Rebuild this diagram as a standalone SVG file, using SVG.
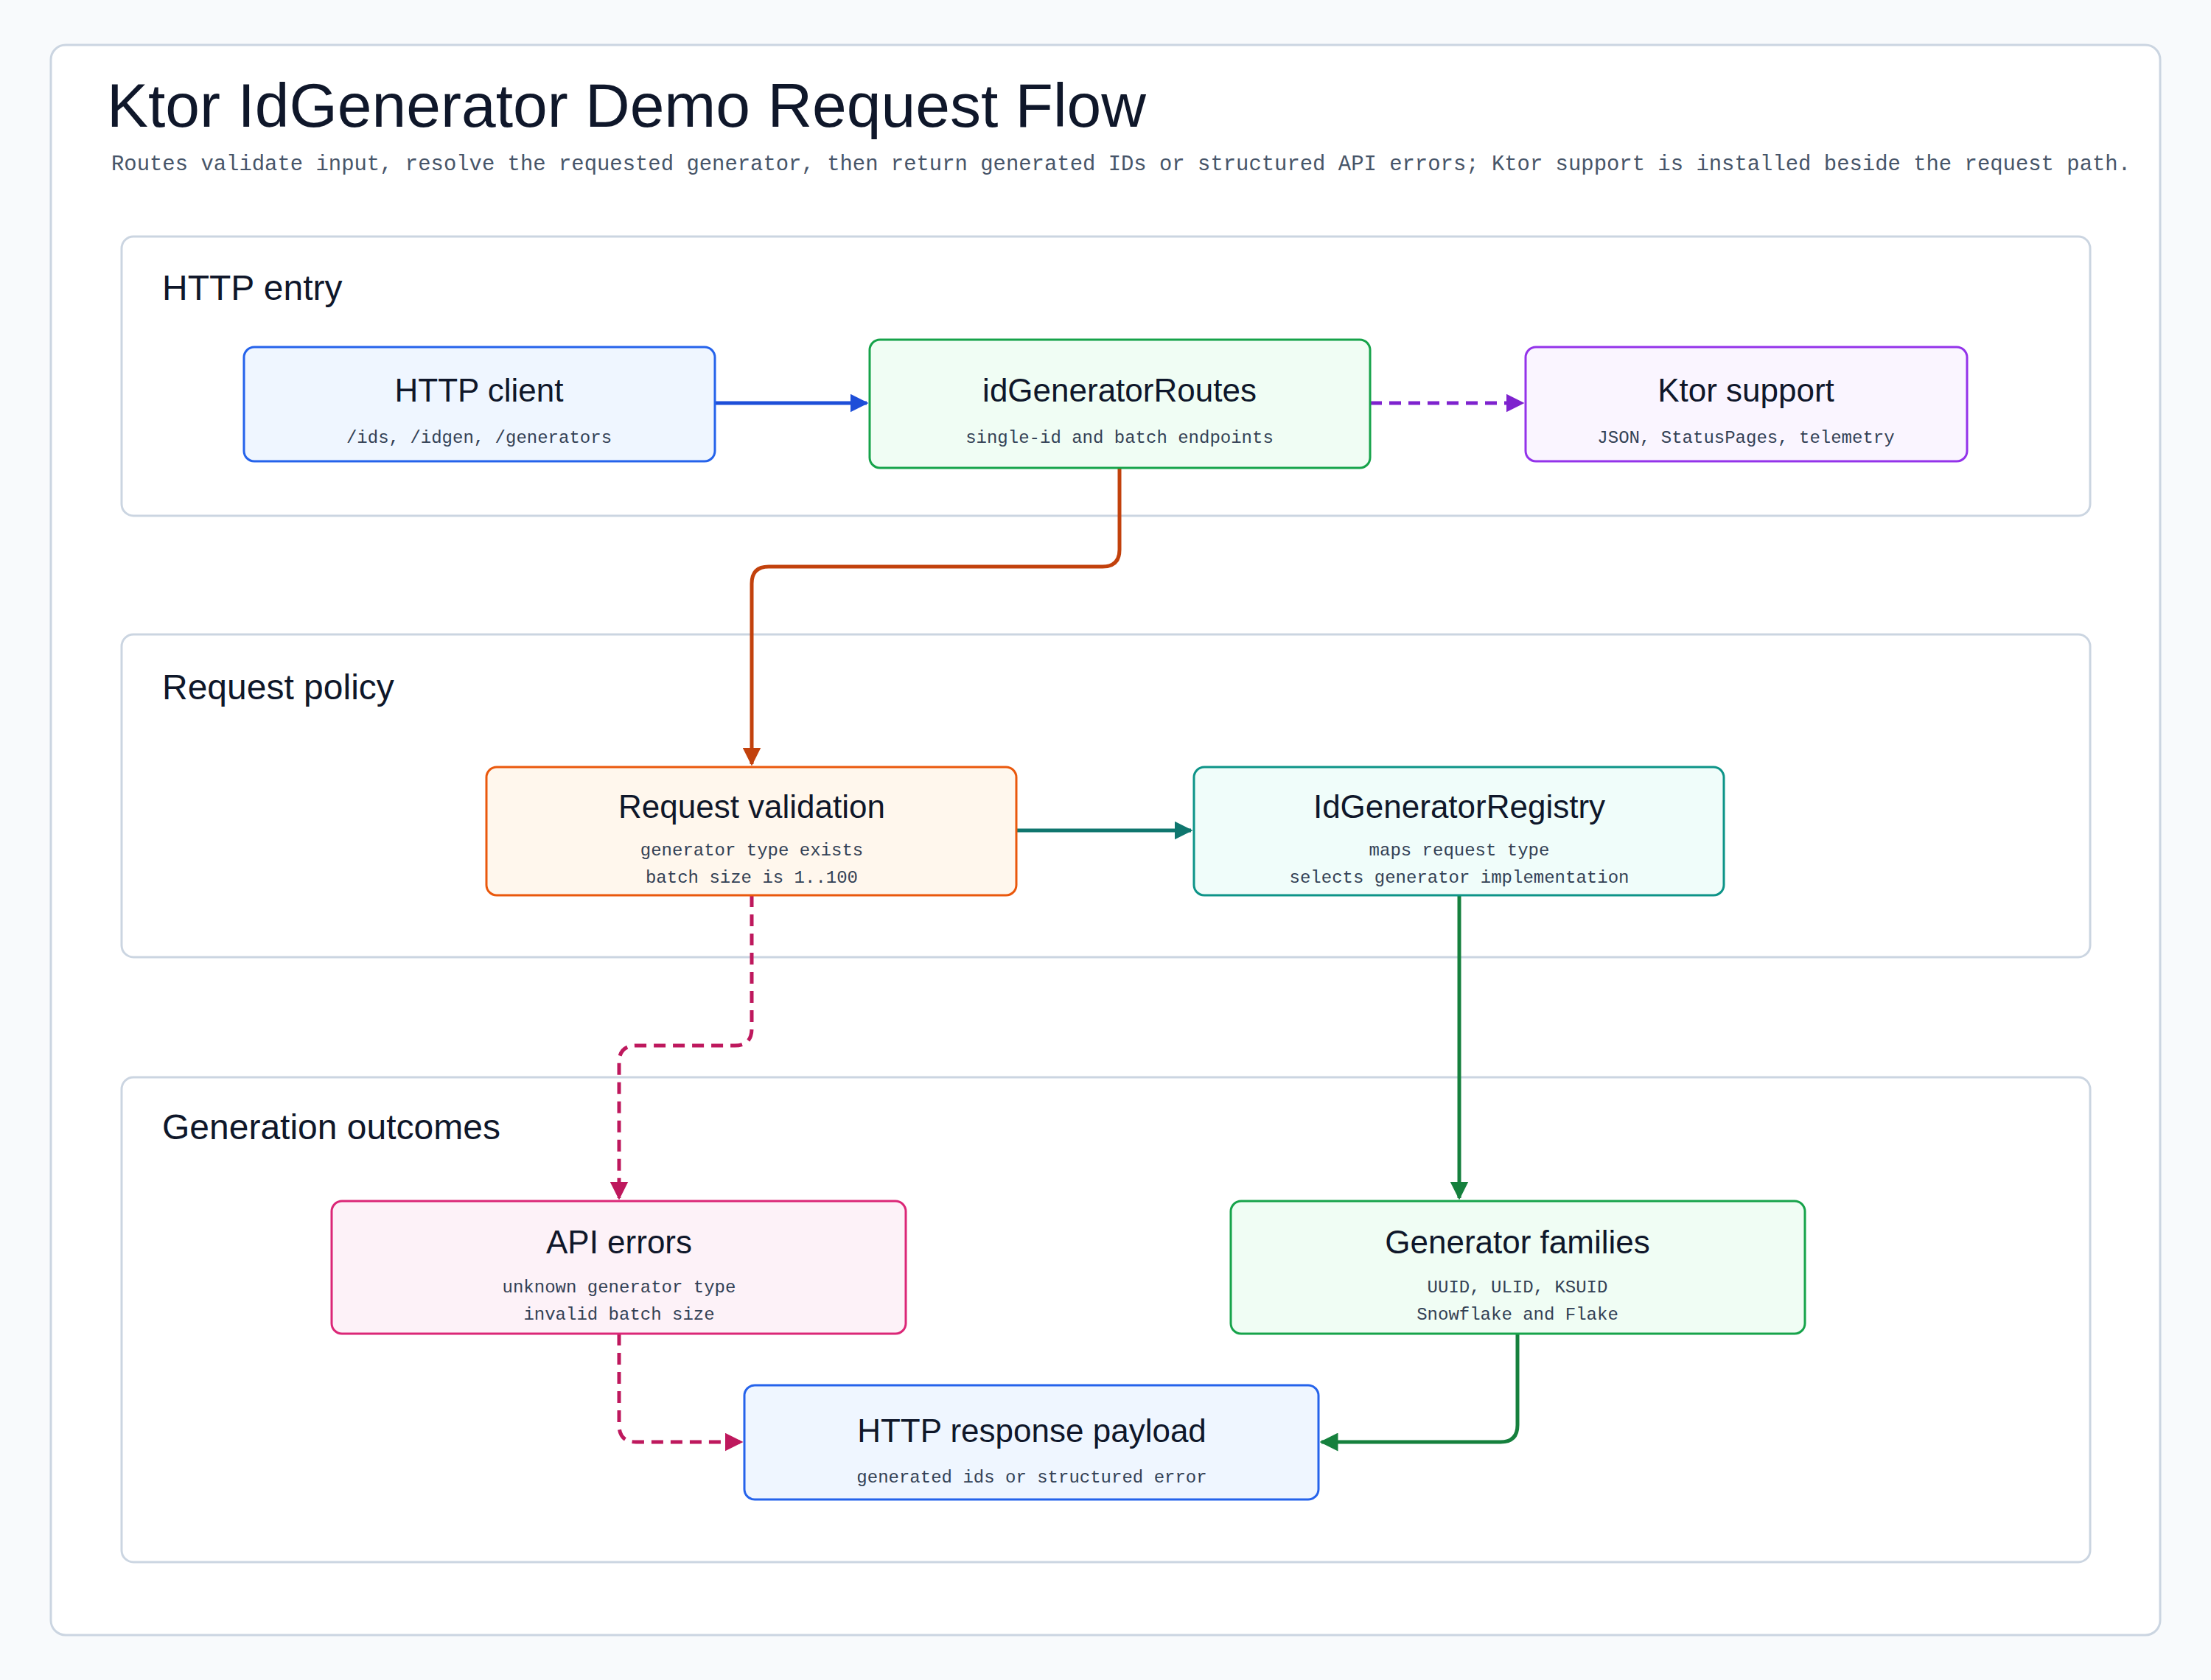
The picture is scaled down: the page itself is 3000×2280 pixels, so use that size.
<svg xmlns="http://www.w3.org/2000/svg" width="3000" height="2280" viewBox="0 0 3000 2280">
<style>
.sec{fill:#fff;stroke:#cbd5e1;stroke-width:3}
.h{font-family:"Liberation Sans",sans-serif;fill:#0f172a}
.slab{font-size:48px}
.nt{font-size:44px;text-anchor:middle}
.ns{font-family:"Liberation Mono",monospace;font-size:24px;fill:#334155;text-anchor:middle}
.c{fill:none;stroke-width:5}
.d{stroke-dasharray:16 10}
</style>
<defs>
<marker id="ab" viewBox="0 0 10 10" refX="9" refY="5" markerWidth="5" markerHeight="5" orient="auto"><path d="M0,0L10,5L0,10z" fill="#1d4ed8"/></marker>
<marker id="ap" viewBox="0 0 10 10" refX="9" refY="5" markerWidth="5" markerHeight="5" orient="auto"><path d="M0,0L10,5L0,10z" fill="#7e22ce"/></marker>
<marker id="ao" viewBox="0 0 10 10" refX="9" refY="5" markerWidth="5" markerHeight="5" orient="auto"><path d="M0,0L10,5L0,10z" fill="#c2410c"/></marker>
<marker id="at" viewBox="0 0 10 10" refX="9" refY="5" markerWidth="5" markerHeight="5" orient="auto"><path d="M0,0L10,5L0,10z" fill="#0f766e"/></marker>
<marker id="ak" viewBox="0 0 10 10" refX="9" refY="5" markerWidth="5" markerHeight="5" orient="auto"><path d="M0,0L10,5L0,10z" fill="#be185d"/></marker>
<marker id="ag" viewBox="0 0 10 10" refX="9" refY="5" markerWidth="5" markerHeight="5" orient="auto"><path d="M0,0L10,5L0,10z" fill="#15803d"/></marker>
</defs>
<rect width="3000" height="2280" fill="#f8fafc"/>
<rect x="69" y="61" width="2862" height="2158" rx="20" fill="#fff" stroke="#cbd5e1" stroke-width="3"/>
<text class="h" x="145" y="172" font-size="84">Ktor IdGenerator Demo Request Flow</text>
<text x="151" y="231" font-family="Liberation Mono,monospace" font-size="30" fill="#475569" textLength="2740" lengthAdjust="spacingAndGlyphs">Routes validate input, resolve the requested generator, then return generated IDs or structured API errors; Ktor support is installed beside the request path.</text>
<g id="sec-entry"><rect class="sec" x="165" y="321" width="2671" height="379" rx="16"/><text class="h slab" x="220" y="407">HTTP entry</text></g>
<g id="sec-policy"><rect class="sec" x="165" y="861" width="2671" height="438" rx="16"/><text class="h slab" x="220" y="949">Request policy</text></g>
<g id="sec-out"><rect class="sec" x="165" y="1462" width="2671" height="658" rx="16"/><text class="h slab" x="220" y="1546">Generation outcomes</text></g>
<g id="connectors">
<path class="c" stroke="#1d4ed8" d="M970,547H1176" marker-end="url(#ab)"/>
<path class="c d" stroke="#7e22ce" d="M1859,547H2066" marker-end="url(#ap)"/>
<path class="c" stroke="#c2410c" d="M1519,635V746Q1519,769 1496,769H1043Q1020,769 1020,792V1037" marker-end="url(#ao)"/>
<path class="c" stroke="#0f766e" d="M1379,1127H1616" marker-end="url(#at)"/>
<path class="c d" stroke="#be185d" d="M1020,1215V1396Q1020,1419 997,1419H863Q840,1419 840,1442V1626" marker-end="url(#ak)"/>
<path class="c" stroke="#15803d" d="M1980,1215V1626" marker-end="url(#ag)"/>
<path class="c d" stroke="#be185d" d="M840,1810V1934Q840,1957 863,1957H1006" marker-end="url(#ak)"/>
<path class="c" stroke="#15803d" d="M2059,1810V1934Q2059,1957 2036,1957H1793" marker-end="url(#ag)"/>
</g>
<g id="n-client"><rect x="331" y="471" width="639" height="155" rx="14" fill="#eff6ff" stroke="#2563eb" stroke-width="3"/><text class="h nt" x="650" y="545">HTTP client</text><text class="ns" x="650" y="601">/ids, /idgen, /generators</text></g>
<g id="n-routes"><rect x="1180" y="461" width="679" height="174" rx="14" fill="#f0fdf4" stroke="#16a34a" stroke-width="3"/><text class="h nt" x="1519" y="545">idGeneratorRoutes</text><text class="ns" x="1519" y="601">single-id and batch endpoints</text></g>
<g id="n-ktor"><rect x="2070" y="471" width="599" height="155" rx="14" fill="#faf5ff" stroke="#9333ea" stroke-width="3"/><text class="h nt" x="2369" y="545">Ktor support</text><text class="ns" x="2369" y="601">JSON, StatusPages, telemetry</text></g>
<g id="n-valid"><rect x="660" y="1041" width="719" height="174" rx="14" fill="#fff7ed" stroke="#ea580c" stroke-width="3"/><text class="h nt" x="1020" y="1110">Request validation</text><text class="ns" x="1020" y="1161">generator type exists</text><text class="ns" x="1020" y="1198">batch size is 1..100</text></g>
<g id="n-registry"><rect x="1620" y="1041" width="719" height="174" rx="14" fill="#f0fdfa" stroke="#0d9488" stroke-width="3"/><text class="h nt" x="1980" y="1110">IdGeneratorRegistry</text><text class="ns" x="1980" y="1161">maps request type</text><text class="ns" x="1980" y="1198">selects generator implementation</text></g>
<g id="n-errors"><rect x="450" y="1630" width="779" height="180" rx="14" fill="#fdf2f8" stroke="#db2777" stroke-width="3"/><text class="h nt" x="840" y="1701">API errors</text><text class="ns" x="840" y="1754">unknown generator type</text><text class="ns" x="840" y="1791">invalid batch size</text></g>
<g id="n-families"><rect x="1670" y="1630" width="779" height="180" rx="14" fill="#f0fdf4" stroke="#16a34a" stroke-width="3"/><text class="h nt" x="2059" y="1701">Generator families</text><text class="ns" x="2059" y="1754">UUID, ULID, KSUID</text><text class="ns" x="2059" y="1791">Snowflake and Flake</text></g>
<g id="n-payload"><rect x="1010" y="1880" width="779" height="155" rx="14" fill="#eff6ff" stroke="#2563eb" stroke-width="3"/><text class="h nt" x="1400" y="1957">HTTP response payload</text><text class="ns" x="1400" y="2012">generated ids or structured error</text></g>
</svg>
